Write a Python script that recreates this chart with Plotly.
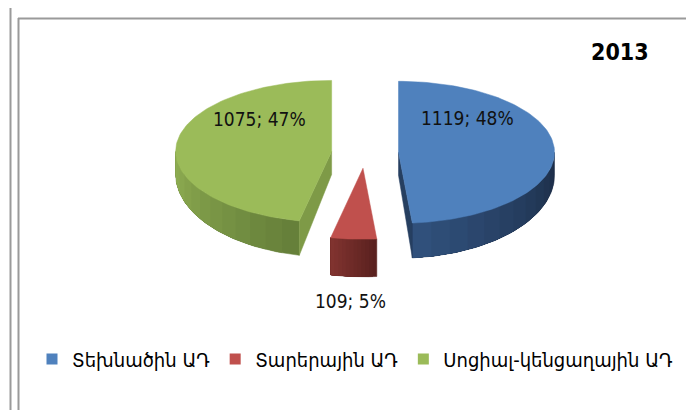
import math
import plotly.graph_objects as go

# ---------------- data ----------------
categories = ["Տեխնածին ԱԴ", "Տարերային ԱԴ", "Սոցիալ-կենցաղային ԱԴ"]
values = [1119, 109, 1075]
percents = [48, 5, 47]
chart_title = "2013"

# ---------------- styles / layout ----------------
top_colors = ["#4F81BD", "#C0504D", "#9BBB59"]
side_light = ["#30507B", "#80332F", "#8FAE52"]
side_dark = ["#1C2D47", "#5A211F", "#66803A"]
face_colors = ["#263F60", "#6A2826", "#7E9A47"]

W, H = 694, 410
CX, CY = 357, 145          # pie centre in pixels
RX, RY = 156, 71           # ellipse semi-axes in pixels
DEPTH_EDGE, DEPTH_FRONT = 23, 35
EXPLODE = 0.215            # explosion distance, in radius units
label_offsets = [(0.44, 0.48), (-0.08, -1.87), (-0.46, 0.46)]  # disk units from slice centre

LABEL_FONT = "DejaVu Sans Condensed, DejaVu Sans, sans-serif"
LEGEND_FONT = "DejaVu Sans Condensed, DejaVu Sans, sans-serif"


def hex_to_rgb(h):
    h = h.lstrip("#")
    return tuple(int(h[i:i + 2], 16) for i in (0, 2, 4))


def mix(c1, c2, t):
    a, b = hex_to_rgb(c1), hex_to_rgb(c2)
    return "rgb(%d,%d,%d)" % tuple(round(a[i] + (b[i] - a[i]) * t) for i in range(3))


def scr(u, v):
    """disk coords (u right, v back) -> pixel coords"""
    return CX + RX * u, CY - RY * v


def depth(v):
    return DEPTH_EDGE + (DEPTH_FRONT - DEPTH_EDGE) * max(0.0, -v)


fig = go.Figure()

total = sum(values)
angles = []
acc = 0.0
for val in values:
    a0 = acc / total * 2 * math.pi
    acc += val
    a1 = acc / total * 2 * math.pi
    angles.append((a0, a1))


def poly(xs, ys, color, lw=0):
    fig.add_trace(go.Scatter(x=xs, y=ys, mode="lines", fill="toself",
                             fillcolor=color, line=dict(color=color, width=lw),
                             hoverinfo="skip", showlegend=False))


slice_centres = []
order = [2, 0, 1]
for i in range(len(values)):
    a0, a1 = angles[i]
    mid = (a0 + a1) / 2
    slice_centres.append((EXPLODE * math.sin(mid), EXPLODE * math.cos(mid)))

for i in order:
    a0, a1 = angles[i]
    ou, ov = slice_centres[i]

    # outer curved side (front half only); gradient light at left end -> dark at right end
    s0 = max(a0, math.pi / 2)          # right end on screen
    s1 = min(a1, 3 * math.pi / 2)      # left end on screen
    if s1 > s0:
        def side_poly(t0, t1, steps):
            pts = [t0 + (t1 - t0) * j / steps for j in range(steps + 1)]
            xs, ys = [], []
            for t in pts:
                x, y = scr(ou + math.sin(t), ov + math.cos(t))
                xs.append(x)
                ys.append(y)
            for t in reversed(pts):
                v = ov + math.cos(t)
                x, y = scr(ou + math.sin(t), v)
                xs.append(x)
                ys.append(y + depth(v))
            xs.append(xs[0])
            ys.append(ys[0])
            return xs, ys

        nseg = 12
        for k in range(nseg):
            frac = 1 - k / nseg
            t0 = s1 - (s1 - s0) * frac
            xs, ys = side_poly(t0, s1, 60)
            poly(xs, ys, mix(side_dark[i], side_light[i], k / (nseg - 1)), lw=0.5 if k == 0 else 0)

    # radial faces
    for phi, normal in ((a0, a0 - math.pi / 2), (a1, a1 + math.pi / 2)):
        if math.cos(normal) < -1e-6:
            u1, v1 = ou, ov
            u2, v2 = ou + math.sin(phi), ov + math.cos(phi)
            x1, y1 = scr(u1, v1)
            x2, y2 = scr(u2, v2)
            poly([x1, x2, x2, x1, x1],
                 [y1, y2, y2 + depth(v2), y1 + depth(v1), y1], face_colors[i], lw=0.5)

    # top surface
    n = max(8, int((a1 - a0) / (2 * math.pi) * 240))
    xs, ys = [], []
    cx0, cy0 = scr(ou, ov)
    xs.append(cx0)
    ys.append(cy0)
    for j in range(n + 1):
        t = a0 + (a1 - a0) * j / n
        x, y = scr(ou + math.sin(t), ov + math.cos(t))
        xs.append(x)
        ys.append(y)
    xs.append(cx0)
    ys.append(cy0)
    poly(xs, ys, top_colors[i], lw=0.5)

# data labels
annotations = []
for i in range(len(values)):
    ou, ov = slice_centres[i]
    du, dv = label_offsets[i]
    x, y = scr(ou + du, ov + dv)
    annotations.append(dict(x=x, y=y, xref="x", yref="y", showarrow=False,
                            text=f"{values[i]}; {percents[i]}%",
                            font=dict(family=LABEL_FONT, size=19, color="#111111")))

annotations.append(dict(x=612, y=44, xref="x", yref="y", showarrow=False,
                        text=f"<b>{chart_title}</b>",
                        font=dict(family=LABEL_FONT, size=23, color="#000000")))

# legend entries
for i, name in enumerate(categories):
    fig.add_trace(go.Scatter(x=[None], y=[None], mode="markers", name=name,
                             marker=dict(symbol="square", size=11, color=top_colors[i]),
                             showlegend=True))

shapes = [
    dict(type="line", xref="paper", yref="paper", x0=2.5 / W, x1=2.5 / W, y0=0, y1=1,
         line=dict(color="#9a9a9a", width=2)),
    dict(type="line", xref="paper", yref="paper", x0=10.5 / W, x1=10.5 / W, y0=0, y1=1 - 10 / H,
         line=dict(color="#9a9a9a", width=2)),
    dict(type="line", xref="paper", yref="paper", x0=10 / W, x1=687 / W, y0=1 - 10.5 / H, y1=1 - 10.5 / H,
         line=dict(color="#9a9a9a", width=2)),
    dict(type="line", xref="paper", yref="paper", x0=686.5 / W, x1=686.5 / W, y0=0, y1=1 - 10 / H,
         line=dict(color="#9a9a9a", width=2)),
]

fig.update_layout(
    width=W, height=H,
    margin=dict(l=0, r=0, t=0, b=0),
    paper_bgcolor="white", plot_bgcolor="white",
    xaxis=dict(range=[0, W], visible=False, fixedrange=True),
    yaxis=dict(range=[H, 0], visible=False, fixedrange=True),
    showlegend=True,
    legend=dict(orientation="h", x=0.5, xanchor="center", y=1 - 351 / H, yanchor="middle",
                font=dict(family=LEGEND_FONT, size=20, color="#000000"),
                itemwidth=30, tracegroupgap=0,
                bgcolor="rgba(0,0,0,0)", itemclick=False, itemdoubleclick=False),
    annotations=annotations,
    shapes=shapes,
)

fig.write_html("out.html")
